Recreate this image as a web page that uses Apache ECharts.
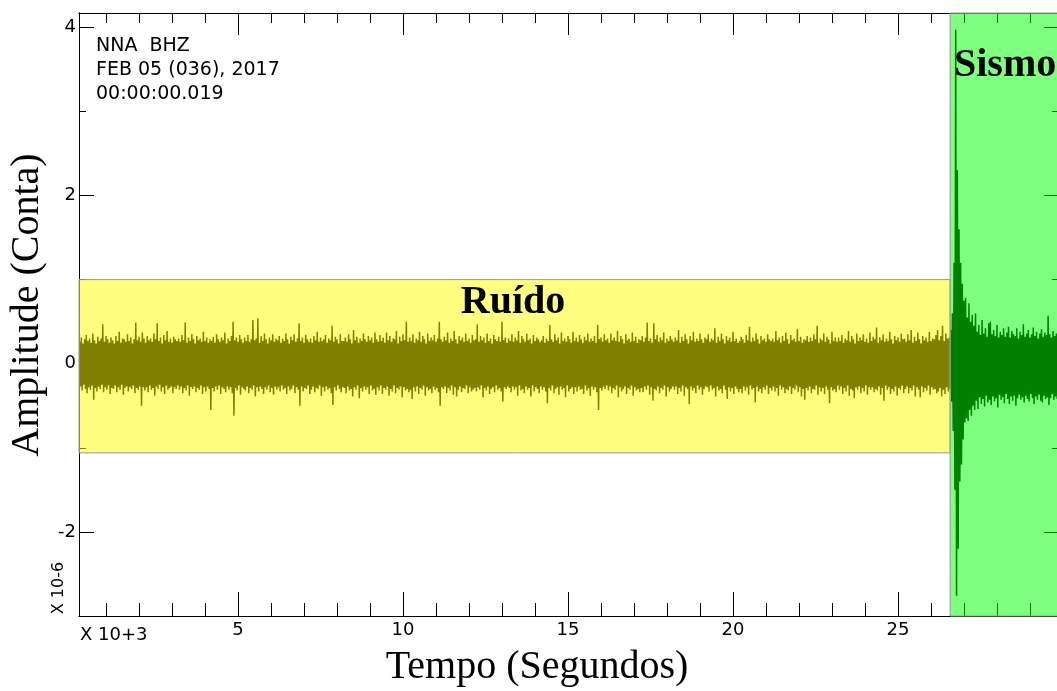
<!DOCTYPE html>
<html>
<head>
<meta charset="utf-8">
<script src="https://cdn.jsdelivr.net/npm/echarts@6/dist/echarts.min.js"></script>
<style>
  html, body { margin: 0; padding: 0; background: #fff; }
  #main { width: 1057px; height: 691px; }
</style>
</head>
<body>
<div id="main"></div>
<script>
// time in 10^3 s, amplitude in 10^-6 counts (trace values stored x100)
var xMin = 0.18, xMax = 29.88;
var yMin = -3, yMax = 4.17;

var xMajorTicks = [5, 10, 15, 20, 25];
var xMinorTicks = [1, 2, 3, 4, 6, 7, 8, 9, 11, 12, 13, 14, 16, 17, 18, 19, 21, 22, 23, 24, 26, 27, 28, 29];
var yMajorTicks = [-2, 0, 2, 4];
var yMinorTicks = [-3, -1, 1, 3];

// background noise, envelope read every 0.05 (x10^3 s) from t = 0.2
var noiseStart = 0.2, noiseStep = 0.05;
var noiseUpper = [
  26,31,24,29,34,27,30,25,36,28,24,32,27,30,47,26,33,29,25,31,
  28,24,33,27,38,25,30,29,26,35,27,31,24,29,49,28,32,26,37,30,
  25,33,28,30,26,36,29,48,27,31,24,34,28,39,26,30,25,32,29,27,
  30,26,34,28,49,25,31,27,35,29,24,33,28,30,26,38,27,31,25,29,
  27,32,25,35,29,26,31,28,37,24,30,27,33,50,28,31,26,34,29,25,
  31,27,34,26,29,52,28,30,54,25,33,27,36,29,24,31,28,35,26,30,
  28,33,25,30,27,36,29,24,32,28,35,26,30,48,27,31,25,34,29,26,
  30,25,33,28,38,26,31,27,29,34,25,30,28,45,26,32,29,24,35,27,
  27,31,26,35,29,24,40,28,32,25,30,27,36,29,26,33,28,31,25,37,
  29,26,34,27,31,25,37,28,33,26,30,29,39,24,32,27,35,28,50,26,
  31,27,35,25,30,28,38,26,33,29,24,36,27,31,28,34,26,30,50,29,
  26,32,28,37,25,30,27,39,29,24,33,28,31,26,36,27,30,25,34,28,
  29,47,26,33,28,31,25,36,27,30,24,34,29,27,32,26,50,28,31,25,
  30,27,35,26,31,28,39,25,33,29,26,36,28,30,24,34,27,31,29,26,
  28,33,25,30,27,46,29,26,35,28,31,24,37,27,30,26,33,29,25,38,
  27,31,26,34,29,25,32,28,36,26,30,27,33,25,46,29,31,26,35,28,
  30,25,36,28,31,27,39,26,33,29,24,35,28,30,26,37,27,32,25,29,
  28,33,26,31,49,27,30,25,48,29,34,26,31,28,37,25,30,27,33,29,
  26,31,28,40,25,32,27,35,29,24,33,28,38,26,30,27,36,29,25,31,
  29,35,26,30,28,42,25,32,27,36,29,24,33,28,31,26,38,27,30,25,
  27,32,29,25,34,28,44,26,31,27,36,29,24,33,28,30,26,35,29,27,
  30,26,39,28,31,25,33,27,37,29,24,34,28,30,26,41,27,32,25,29,
  28,33,26,31,27,35,29,45,25,30,28,36,26,32,29,24,38,27,31,26,
  31,27,34,25,30,28,39,26,33,29,24,36,27,31,28,35,26,30,25,37,
  27,32,29,43,25,31,28,35,26,30,27,38,29,24,33,28,31,26,36,29,
  30,26,35,28,40,25,32,27,37,29,24,33,28,31,26,38,27,30,29,34,
  40,28,33,45,27,36,30,31
];
var noiseLower = [
  -27,-32,-25,-30,-35,-28,-31,-26,-43,-29,-33,-27,-30,-25,-34,-28,-31,-26,-36,-29,
  -30,-26,-34,-28,-31,-25,-37,-29,-27,-33,-28,-30,-26,-35,-29,-31,-27,-50,-28,-32,
  -28,-34,-26,-31,-29,-38,-27,-30,-25,-33,-28,-36,-26,-31,-29,-27,-35,-28,-30,-26,
  -31,-27,-35,-29,-32,-26,-38,-28,-30,-27,-34,-29,-31,-26,-36,-28,-33,-27,-30,-55,
  -29,-33,-27,-31,-26,-36,-28,-30,-34,-27,-31,-28,-35,-62,-29,-32,-26,-37,-28,-30,
  -32,-27,-35,-29,-31,-26,-39,-28,-33,-27,-30,-36,-28,-31,-26,-34,-29,-37,-27,-31,
  -28,-33,-26,-31,-29,-36,-27,-32,-30,-26,-35,-28,-31,-50,-27,-33,-29,-30,-26,-36,
  -31,-27,-34,-29,-30,-26,-38,-28,-33,-27,-31,-29,-35,-49,-28,-32,-26,-30,-34,-28,
  -29,-35,-27,-32,-30,-39,-28,-31,-26,-41,-29,-33,-27,-31,-28,-36,-26,-32,-30,-37,
  -28,-32,-26,-36,-29,-31,-27,-38,-30,-33,-26,-35,-29,-31,-27,-40,-28,-32,-30,-34,
  -31,-42,-28,-33,-27,-36,-29,-31,-26,-38,-28,-32,-30,-35,-27,-31,-29,-34,-50,-28,
  -30,-27,-35,-29,-32,-26,-37,-28,-39,-31,-27,-34,-29,-30,-26,-35,-28,-33,-31,-29,
  -33,-28,-31,-26,-40,-29,-32,-27,-36,-30,-28,-34,-26,-31,-29,-33,-45,-28,-30,-27,
  -29,-34,-27,-31,-28,-38,-26,-32,-30,-35,-27,-31,-29,-39,-26,-33,-28,-30,-35,-27,
  -31,-28,-33,-47,-29,-32,-26,-35,-30,-28,-37,-27,-31,-29,-40,-26,-33,-30,-28,-36,
  -28,-33,-27,-31,-30,-36,-26,-32,-29,-38,-27,-31,-28,-34,-55,-29,-32,-27,-30,-26,
  -32,-27,-35,-29,-31,-26,-40,-28,-33,-30,-27,-36,-29,-31,-26,-38,-28,-32,-30,-34,
  -29,-34,-27,-31,-26,-37,-28,-44,-30,-32,-27,-35,-29,-31,-26,-39,-28,-33,-30,-27,
  -31,-27,-36,-29,-33,-26,-38,-28,-30,-48,-27,-32,-29,-35,-26,-31,-28,-37,-30,-27,
  -28,-33,-26,-31,-29,-39,-27,-32,-30,-35,-26,-31,-42,-28,-33,-29,-36,-27,-30,-34,
  -30,-35,-27,-32,-28,-37,-26,-31,-29,-46,-27,-33,-30,-35,-28,-31,-26,-36,-29,-32,
  -27,-33,-29,-38,-26,-31,-28,-35,-30,-32,-27,-36,-29,-31,-26,-34,-28,-39,-30,-43,
  -29,-32,-27,-35,-30,-31,-26,-37,-28,-33,-29,-36,-27,-31,-47,-28,-32,-30,-34,-26,
  -31,-27,-36,-29,-33,-26,-38,-30,-32,-41,-28,-31,-27,-35,-29,-33,-26,-37,-28,-31,
  -28,-34,-30,-32,-27,-37,-29,-44,-26,-31,-28,-36,-30,-33,-27,-38,-29,-31,-26,-35,
  -30,-27,-35,-29,-32,-26,-39,-28,-31,-40,-27,-34,-29,-32,-26,-37,-28,-31,-30,-35,
  -33,-29,-39,-31,-36,-28,-33,-30
];

// earthquake, envelope read every 0.05 from t = 26.6
var quakeStart = 26.6, quakeStep = 0.05;
var quakeUpper = [
  40,60,120,397,230,160,120,95,75,78,55,72,50,58,45,
  60,38,46,34,52,36,42,32,48,50, 35,40,33,46,31,38,34,42,32,37,
  44,31,39,35,33,42,30,38,34,47, 32,36,40,31,35,43,33,38,30,36,
  41,32,37,34,57,35,31,39,33,36, 38
];
var quakeLower = [
  -45,-80,-150,-276,-220,-140,-120,-90,-70,-65,-68,-55,-62,-50,-55,
  -44,-54,-40,-48,-42,-51,-38,-46,-43,-49, -39,-45,-41,-52,-37,-43,-40,-47,-36,-42,
  -48,-39,-44,-38,-50,-41,-37,-43,-40,-46, -38,-42,-45,-36,-41,-48,-39,-43,-37,-44,
  -46,-38,-42,-40,-49,-41,-36,-43,-39,-42, -40
];

// highlighted windows
var bandNames = ['Ruído', 'Sismo'];
var bandStart = [0.18, 26.58];
var bandEnd = [26.58, 29.88];
var bandLow = [-1.06, -3];
var bandHigh = [1.0, 4.17];
var bandColors = ['rgba(255,255,0,0.5)', 'rgba(0,255,0,0.5)'];

function zigzag(start, step, upper, lower) {
  var pts = [];
  for (var i = 0; i < upper.length; i++) {
    var t = start + i * step;
    pts.push([t, upper[i] / 100]);
    pts.push([t + step / 2, lower[i] / 100]);
  }
  return pts;
}
var trace = zigzag(noiseStart, noiseStep, noiseUpper, noiseLower)
  .concat(zigzag(quakeStart, quakeStep, quakeUpper, quakeLower));

var bands = [];
for (var i = 0; i < bandNames.length; i++) {
  bands.push([bandStart[i], bandEnd[i], bandLow[i], bandHigh[i]]);
}

var sans = 'DejaVu Sans, Verdana, sans-serif';
var serif = 'Liberation Serif, Times New Roman, serif';

function xAx(pos, ticks, len, labels) {
  return {
    type: 'value', position: pos, min: xMin, max: xMax,
    axisLine: { show: true, onZero: false, lineStyle: { color: '#000', width: 1 } },
    axisTick: { show: true, inside: true, length: len, customValues: ticks, lineStyle: { color: '#000', width: 1 } },
    axisLabel: { show: labels, customValues: ticks, color: '#000', fontSize: 18, fontFamily: sans, margin: 5 },
    splitLine: { show: false }
  };
}
function yAx(pos, ticks, len, labels) {
  return {
    type: 'value', position: pos, min: yMin, max: yMax,
    axisLine: { show: true, onZero: false, lineStyle: { color: '#000', width: 1 } },
    axisTick: { show: true, inside: true, length: len, customValues: ticks, lineStyle: { color: '#000', width: 1 } },
    axisLabel: { show: labels, customValues: ticks, color: '#000', fontSize: 18, fontFamily: sans, margin: 3 },
    splitLine: { show: false }
  };
}

var myChart = echarts.init(document.getElementById('main'));
myChart.setOption({
  animation: false,
  backgroundColor: '#fff',
  grid: { left: 79, top: 13, right: -2, bottom: 75, containLabel: false, outerBoundsMode: 'none' },
  xAxis: [
    xAx('bottom', xMajorTicks, 24, true),
    xAx('bottom', xMinorTicks, 13, false),
    xAx('top', xMajorTicks, 22, false),
    xAx('top', xMinorTicks, 10, false)
  ],
  yAxis: [
    yAx('left', yMajorTicks, 15, true),
    yAx('left', yMinorTicks, 7, false),
    yAx('right', yMajorTicks, 15, false),
    yAx('right', yMinorTicks, 7, false)
  ],
  series: [
    {
      name: 'NNA BHZ',
      type: 'line',
      data: trace,
      showSymbol: false,
      symbol: 'none',
      sampling: null,
      lineStyle: { color: '#000', width: 1.5 },
      z: 2,
      silent: true
    },
    {
      name: 'janelas',
      type: 'custom',
      data: bands,
      z: 5,
      silent: true,
      renderItem: function (params, api) {
        var p0 = api.coord([api.value(0), api.value(3)]);
        var p1 = api.coord([api.value(1), api.value(2)]);
        return {
          type: 'rect',
          shape: { x: p0[0], y: p0[1], width: p1[0] - p0[0], height: p1[1] - p0[1] },
          style: { fill: bandColors[params.dataIndex], stroke: '#999', lineWidth: 1 }
        };
      }
    }
  ],
  graphic: [
    { type: 'text', left: 96, top: 34, z: 10, style: { text: 'NNA  BHZ\nFEB 05 (036), 2017\n00:00:00.019', fontSize: 19, lineHeight: 24, fontFamily: sans, fill: '#000' } },
    { type: 'text', x: 513, y: 303, z: 10, style: { text: 'Ruído', fontSize: 40, fontWeight: 'bold', fontFamily: serif, fill: '#000', align: 'center', verticalAlign: 'middle' } },
    { type: 'text', x: 954, y: 66, z: 10, style: { text: 'Sismo', fontSize: 40, fontWeight: 'bold', fontFamily: serif, fill: '#000', align: 'left', verticalAlign: 'middle' } },
    { type: 'text', x: 80, y: 635, z: 10, style: { text: 'X 10+3', fontSize: 18, fontFamily: sans, fill: '#000', align: 'left', verticalAlign: 'middle' } },
    { type: 'text', x: 59, y: 588, rotation: Math.PI / 2, z: 10, style: { text: 'X 10-6', fontSize: 16, fontFamily: sans, fill: '#000', align: 'center', verticalAlign: 'middle' } },
    { type: 'text', x: 537, y: 667, z: 10, style: { text: 'Tempo (Segundos)', fontSize: 40, fontFamily: serif, fill: '#000', align: 'center', verticalAlign: 'middle' } },
    { type: 'text', x: 27, y: 305, rotation: Math.PI / 2, z: 10, style: { text: 'Amplitude (Conta)', fontSize: 40, fontFamily: serif, fill: '#000', align: 'center', verticalAlign: 'middle' } }
  ]
});
</script>
</body>
</html>
